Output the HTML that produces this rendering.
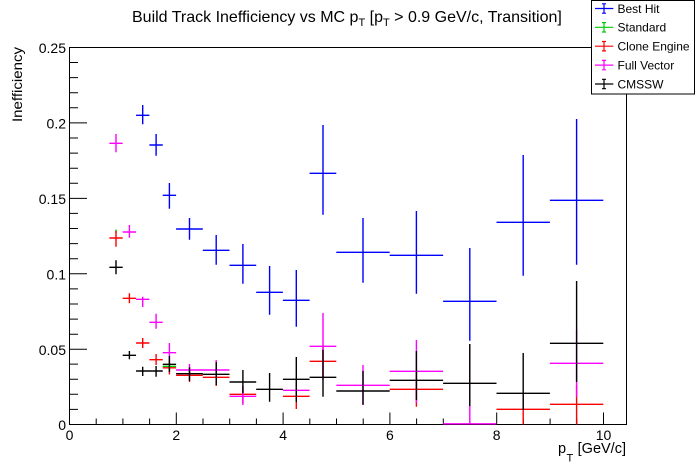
<!DOCTYPE html>
<html>
<head>
<meta charset="utf-8">
<style>
  html, body { margin:0; padding:0; background:#fff; }
  svg { display:block; }
  text { font-family: "Liberation Sans", "DejaVu Sans", sans-serif; fill:#000; }
</style>
</head>
<body>
<svg width="696" height="472" viewBox="0 0 696 472" xmlns="http://www.w3.org/2000/svg">
  <rect x="0" y="0" width="696" height="472" fill="#fff"/>

  <!-- Title -->
  <text x="132" y="22" font-size="16">Build Track Inefficiency vs MC p<tspan font-size="11" dy="4">T</tspan><tspan dy="-4"> [p</tspan><tspan font-size="11" dy="4">T</tspan><tspan dy="-4"> &gt; 0.9 GeV/c, Transition]</tspan></text>

  <!-- Frame -->
  <rect x="69.5" y="47.5" width="557" height="377" fill="none" stroke="#000" stroke-width="1"/>

  <!-- X ticks -->
  <path stroke="#000" stroke-width="1" fill="none" d="
    M69.5 424.5V412.5 M96.2 424.5V418.5 M122.9 424.5V418.5 M149.6 424.5V418.5
    M176.3 424.5V412.5 M203 424.5V418.5 M229.7 424.5V418.5 M256.4 424.5V418.5
    M283.1 424.5V412.5 M309.8 424.5V418.5 M336.5 424.5V418.5 M363.2 424.5V418.5
    M389.9 424.5V412.5 M416.6 424.5V418.5 M443.3 424.5V418.5 M470 424.5V418.5
    M496.7 424.5V412.5 M523.4 424.5V418.5 M550.1 424.5V418.5 M576.8 424.5V418.5
    M603.5 424.5V412.5"/>

  <!-- Y ticks -->
  <path stroke="#000" stroke-width="1" fill="none" d="
    M69.5 424.5H87 M69.5 409.4H78 M69.5 394.3H78 M69.5 379.2H78 M69.5 364.1H78
    M69.5 349.3H87 M69.5 334.2H78 M69.5 319.1H78 M69.5 304H78 M69.5 288.9H78
    M69.5 273.8H87 M69.5 258.7H78 M69.5 243.6H78 M69.5 228.5H78 M69.5 213.4H78
    M69.5 198.4H87 M69.5 183.3H78 M69.5 168.2H78 M69.5 153.1H78 M69.5 138H78
    M69.5 122.9H87 M69.5 107.8H78 M69.5 92.7H78 M69.5 77.6H78 M69.5 62.5H78
    M69.5 47.5H87"/>

  <!-- Y tick labels -->
  <g font-size="14" text-anchor="end">
    <text x="66" y="430">0</text>
    <text x="66" y="355">0.05</text>
    <text x="66" y="279.5">0.1</text>
    <text x="66" y="204">0.15</text>
    <text x="66" y="128.5">0.2</text>
    <text x="66" y="53">0.25</text>
  </g>

  <!-- X tick labels -->
  <g font-size="14" text-anchor="middle">
    <text x="69.5" y="440">0</text>
    <text x="176.3" y="440">2</text>
    <text x="283.1" y="440">4</text>
    <text x="389.9" y="440">6</text>
    <text x="496.7" y="440">8</text>
    <text x="603.5" y="440">10</text>
  </g>

  <!-- Axis titles -->
  <text x="22" y="47" font-size="14" text-anchor="end" transform="rotate(-90 22 47)" textLength="75" lengthAdjust="spacingAndGlyphs">Inefficiency</text>
  <text x="558" y="453" font-size="14.5">p</text>
  <text x="566.5" y="461.7" font-size="11">T</text>
  <text x="626" y="453" font-size="14.5" text-anchor="end">[GeV/c]</text>

  <!-- Best Hit (blue) -->
  <path stroke="#0000ff" stroke-width="1.4" fill="none" d="
    M136.05 115.3H149.4M142.7 105V124.3
    M149.4 145H162.75M156.1 134V155.7
    M162.75 195.3H176.1M169.4 183V208.7
    M176.1 229H202.8M189.5 218V239.7
    M202.8 250.3H229.5M216.2 235V264.7
    M229.5 265.3H256.2M242.9 244V283.7
    M256.2 292.3H282.9M269.6 266V314.7
    M282.9 300.3H309.6M296.3 270V326.7
    M309.6 173.3H336.3M323 125V214.7
    M336.3 252.3H389.7M363 218V282.7
    M389.7 255.3H443.1M416.4 211V293.7
    M443.1 301.3H496.5M469.8 248V340.7
    M496.5 222.3H549.9M523.2 155V275.7
    M549.9 200.3H603.3M576.6 119V264.7"/>

  <!-- Standard (green) -->
  <path stroke="#00cc00" stroke-width="1.4" fill="none" d="
    M162.75 366.3H176.1
    M116 229.5V233"/>

  <!-- Clone Engine (red) -->
  <path stroke="#ff0000" stroke-width="1.4" fill="none" d="
    M109.35 238H122.7M116 231V246.7
    M122.7 298.3H136.05M129.4 293.3V303.3
    M136.05 343H149.4M142.7 338V348
    M149.4 359.7H162.75M156.1 354V365
    M162.75 367.8H176.1M169.4 361V374.5
    M176.1 375.3H202.8M189.5 368V382
    M202.8 377.3H229.5M216.2 362V386
    M229.5 394.3H256.2M242.9 386V403
    M282.9 396.3H309.6M296.3 384V409
    M309.6 361.3H336.3M323 345V378
    M389.7 389.3H443.1M416.4 372V406.7
    M496.5 409.3H549.9M523.2 395V424.5
    M549.9 404.3H603.3M576.6 385V424.5"/>

  <!-- Full Vector (magenta) -->
  <path stroke="#ff00ff" stroke-width="1.4" fill="none" d="
    M109.35 143.3H122.7M116 134V152.3
    M122.7 232H136.05M129.4 225V237.7
    M136.05 299.3H149.4M142.7 296.7V307
    M149.4 322.3H162.75M156.1 313.7V328.7
    M162.75 352.7H176.1M169.4 343V362
    M176.1 370H202.8M189.5 364V376
    M202.8 370H229.5M216.2 360V380
    M229.5 396.3H256.2M242.9 386V405
    M282.9 390.3H309.6M296.3 380V401
    M309.6 346.3H336.3M323 313V380
    M336.3 385.3H389.7M363 365V405
    M389.7 371.3H443.1M416.4 340V403
    M443.1 423.8H496.5M469.8 345V424
    M549.9 363.3H603.3M576.6 330V396.7"/>

  <!-- CMSSW (black) -->
  <path stroke="#000000" stroke-width="1.4" fill="none" d="
    M109.35 267.3H122.7M116 260.3V274.3
    M122.7 355.3H136.05M129.4 351V359.3
    M136.05 371H149.4M142.7 366.7V376
    M149.4 371H162.75M156.1 366V376.7
    M162.75 364.3H176.1M169.4 356V372
    M176.1 373.7H202.8M189.5 367.3V381
    M202.8 374.3H229.5M216.2 362V385
    M229.5 382H256.2M242.9 370V393.3
    M256.2 389.3H282.9M269.6 373V401.7
    M282.9 379.3H309.6M296.3 357V402
    M309.6 377.3H336.3M323 349.7V396.7
    M336.3 391H389.7M363 371V404.7
    M389.7 380.3H443.1M416.4 351V400
    M443.1 383.3H496.5M469.8 344V406
    M496.5 393.3H549.9M523.2 353V410
    M549.9 343.3H603.3M576.6 281V382"/>

  <!-- Legend -->
  <rect x="591.5" y="0.5" width="103" height="93.5" fill="#fff" stroke="#000" stroke-width="1"/>
  <g stroke-width="1.2" fill="none">
    <path stroke="#0000ff" d="M595 8.5H613.3M604 3.8V13.2M602 3.8H606M602 13.2H606"/>
    <path stroke="#00cc00" d="M595 27.3H613.3M604 22.6V32M602 22.6H606M602 32H606"/>
    <path stroke="#ff0000" d="M595 46.2H613.3M604 41.5V50.9M602 41.5H606M602 50.9H606"/>
    <path stroke="#ff00ff" d="M595 65.1H613.3M604 60.4V69.8M602 60.4H606M602 69.8H606"/>
    <path stroke="#000000" d="M595 84H613.3M604 79.3V88.7M602 79.3H606M602 88.7H606"/>
  </g>
  <g font-size="12">
    <text x="617.5" y="12.8">Best Hit</text>
    <text x="617.5" y="31.6">Standard</text>
    <text x="617.5" y="50.5">Clone Engine</text>
    <text x="617.5" y="69.4">Full Vector</text>
    <text x="617.5" y="88.3">CMSSW</text>
  </g>
</svg>
</body>
</html>
